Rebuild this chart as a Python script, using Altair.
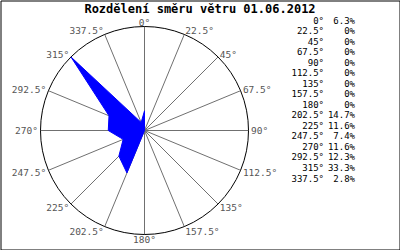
import altair as alt
import pandas as pd

TITLE = "Rozdělení směru větru 01.06.2012"
angles = [0, 22.5, 45, 67.5, 90, 112.5, 135, 157.5, 180, 202.5, 225, 247.5, 270, 292.5, 315, 337.5]
shares = [6.3, 0, 0, 0, 0, 0, 0, 0, 0, 14.7, 11.6, 7.4, 11.6, 12.3, 33.3, 2.8]
RMAX = 33.3

df = pd.DataFrame({"a": angles, "v": shares, "i": list(range(len(angles)))})
center = pd.DataFrame({"c": [0]})
title_df = pd.DataFrame({"t": [TITLE]})

FONT = "DejaVu Sans Mono"
PX = RMAX / 104.0

xs = alt.Scale(domain=[-RMAX, RMAX], range=[40, 248], zero=False, nice=False)
ys = alt.Scale(domain=[-RMAX, RMAX], range=[234, 26], zero=False, nice=False)

base = alt.Chart(df).transform_calculate(t="datum.a * PI / 180")

spokes = base.transform_calculate(
    x0="0", y0="0",
    x1=f"{RMAX} * sin(datum.t)", y1=f"{RMAX} * cos(datum.t)"
).mark_rule(color="#707070", strokeWidth=1).encode(
    x=alt.X("x0:Q", scale=xs, axis=None),
    y=alt.Y("y0:Q", scale=ys, axis=None),
    x2="x1:Q", y2="y1:Q",
)

circle = alt.Chart(center).mark_point(
    shape="circle", filled=False, stroke="black", strokeWidth=1, opacity=1
).encode(
    x=alt.X("c:Q", scale=xs, axis=None),
    y=alt.Y("c:Q", scale=ys, axis=None),
    size=alt.value(208 * 208),
)

poly = base.transform_calculate(
    px=f"datum.v * sin(datum.t)", py=f"datum.v * cos(datum.t)"
).mark_line(
    interpolate="linear-closed", fill="#0000ff", stroke="#0000ff", strokeWidth=1
).encode(
    x=alt.X("px:Q", scale=xs, axis=None),
    y=alt.Y("py:Q", scale=ys, axis=None),
    order=alt.Order("i:Q"),
)

lab = base.transform_calculate(
    lx=f"({RMAX} + 2.5 * {PX}) * sin(datum.t)",
    ly=f"({RMAX} + 4.5 * {PX}) * cos(datum.t) - 0.8 * {PX}",
    txt="datum.a + '°'",
)

def lab_layer(filt, align):
    return lab.transform_filter(filt).mark_text(
        align=align, baseline="middle", font=FONT, fontSize=9.5, color="#555555"
    ).encode(
        x=alt.X("lx:Q", scale=xs, axis=None),
        y=alt.Y("ly:Q", scale=ys, axis=None),
        text="txt:N",
    )

lab_left = lab_layer("datum.a > 0 && datum.a < 180", "left")
lab_right = lab_layer("datum.a > 180", "right")
lab_center = lab_layer("datum.a == 0 || datum.a == 180", "center")

rows = alt.Scale(domain=[0, 15], range=[20, 178], zero=False, nice=False)

leg = alt.Chart(df).transform_calculate(
    at="datum.a + '°'",
    pt="datum.v == 0 ? '0%' : format(datum.v, '.1f') + '%'",
)
leg_a = leg.mark_text(align="right", baseline="middle", font=FONT, fontSize=9, color="black").encode(
    x=alt.value(323.5),
    y=alt.Y("i:Q", scale=rows, axis=None),
    text="at:N",
)
leg_p = leg.mark_text(align="right", baseline="middle", font=FONT, fontSize=9, color="black").encode(
    x=alt.value(354.5),
    y=alt.Y("i:Q", scale=rows, axis=None),
    text="pt:N",
)

title = alt.Chart(title_df).mark_text(
    align="center", baseline="middle", font=FONT, fontSize=12, fontWeight="bold", color="black"
).encode(x=alt.value(199.5), y=alt.value(8.5), text="t:N")

chart = alt.layer(
    spokes, circle, poly, lab_left, lab_right, lab_center, leg_a, leg_p, title
).resolve_scale(y="independent").properties(
    width=399, height=249,
    autosize=alt.AutoSizeParams(type="none"),
    padding={"left": 0.5, "top": 0.5, "right": 0.5, "bottom": 0.5},
).configure_view(stroke="black", strokeWidth=1)

chart.save("out.html", embed_options={"renderer": "svg", "actions": False})
